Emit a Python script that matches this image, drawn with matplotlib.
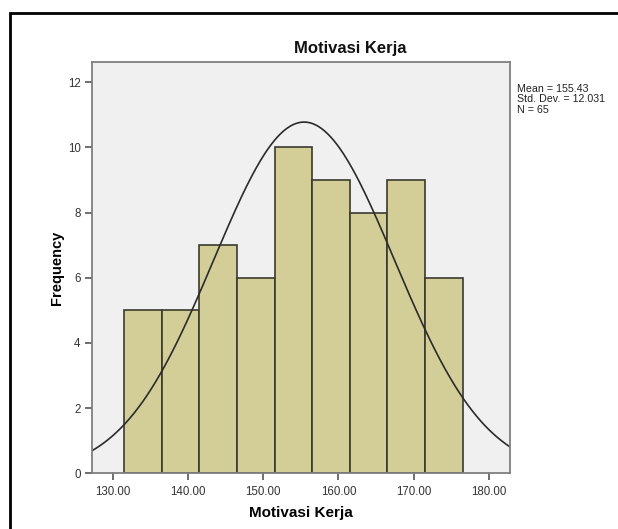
import numpy as np
import matplotlib.pyplot as plt
from matplotlib.patches import Rectangle

plt.rcParams['font.family'] = ['Liberation Sans', 'DejaVu Sans']

# histogram data (Motivasi Kerja)
bin_edges = [131.5, 136.5, 141.5, 146.5, 151.5, 156.5, 161.5, 166.5, 171.5, 176.5]
counts = [5, 5, 7, 6, 10, 9, 8, 9, 6]
x_ticks = [130, 140, 150, 160, 170, 180]
y_ticks = [0, 2, 4, 6, 8, 10, 12]
mean = 155.43
std = 12.031
n = 65

fig = plt.figure(figsize=(6.18, 5.29), dpi=100)
ax = fig.add_axes([0.1484, 0.1053, 0.6768, 0.7781])

# bars
ax.bar(bin_edges[:-1], counts, width=np.diff(bin_edges), align='edge',
       color='#d3ce97', edgecolor='#3a3a2e', linewidth=1.2)

# normal curve
xs = np.linspace(127.2, 182.8, 400)
bw = bin_edges[1] - bin_edges[0]
ys = n * bw / (std * np.sqrt(2 * np.pi)) * np.exp(-0.5 * ((xs - mean) / std) ** 2)
ax.plot(xs, ys, color='#2b2b2b', linewidth=1.2)

ax.set_xlim(127.2, 182.8)
ax.set_ylim(0, 12.63)
ax.set_facecolor('#f0f0f0')
for s in ax.spines.values():
    s.set_color('#7f7f7f')
    s.set_linewidth(1.3)

ax.set_xticks(x_ticks)
ax.set_xticklabels(['%.2f' % t for t in x_ticks])
ax.set_yticks(y_ticks)
ax.tick_params(direction='out', length=5, width=1.2, color='#555555',
               labelsize=8.3, labelcolor='#333333', pad=3)
ax.tick_params(axis='x', pad=4)

ax.set_xlabel('Motivasi Kerja', fontsize=11, fontweight='bold', labelpad=6)
ax.set_ylabel('Frequency', fontsize=10.5, fontweight='bold', labelpad=3)

fig.text(350 / 618, 1 - 49 / 529, 'Motivasi Kerja', ha='center', va='center',
         fontsize=12, fontweight='bold', color='#111111')
fig.text(517 / 618, 1 - 84 / 529,
         'Mean = %.2f\nStd. Dev. = %.3f\nN = %d' % (mean, std, n),
         ha='left', va='top', fontsize=7.7, color='#222222', linespacing=1.05)

# outer frame
fig.add_artist(Rectangle((9.5 / 618, -0.01), 1.1, 1 - 13 / 529 + 0.01,
                         transform=fig.transFigure, fill=False,
                         edgecolor='black', linewidth=2))

fig.savefig('out.png', dpi=100)
